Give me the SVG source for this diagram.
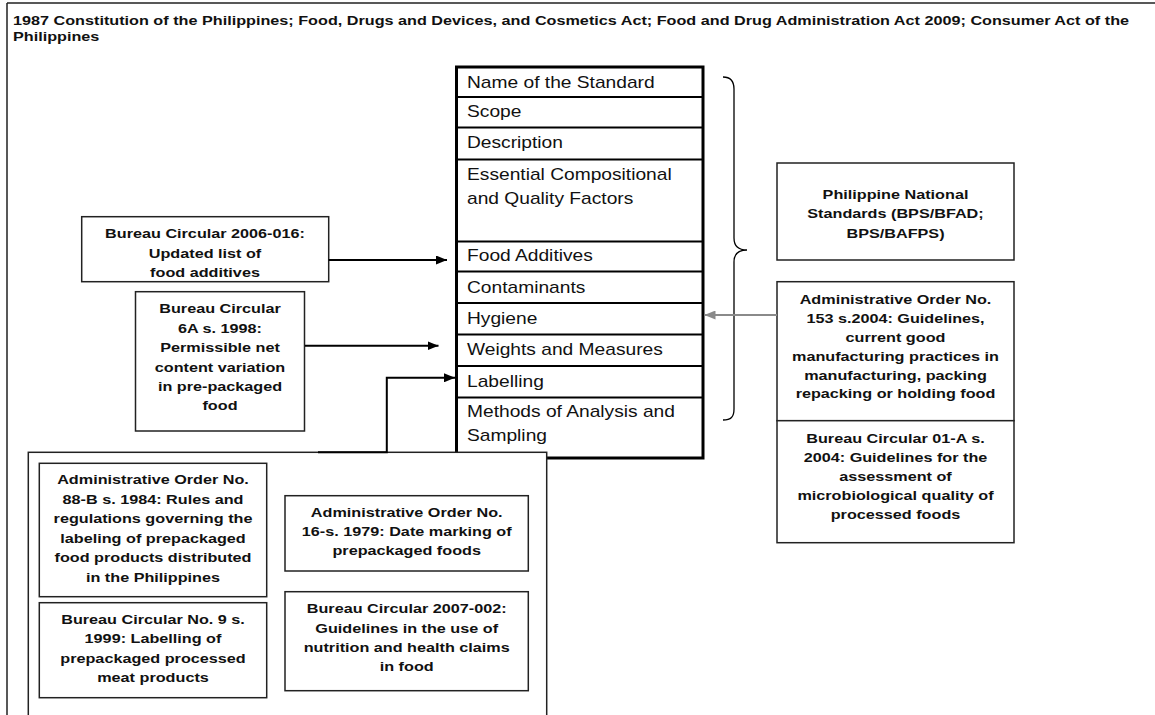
<svg xmlns="http://www.w3.org/2000/svg" width="1155" height="715" viewBox="0 0 1155 715">
  <defs>
    <marker id="ah" markerUnits="userSpaceOnUse" markerWidth="11" markerHeight="9" refX="11" refY="4.5" orient="auto">
      <path d="M0,0 L11,4.5 L0,9 Z" fill="#000"/>
    </marker>
    <marker id="ahg" markerUnits="userSpaceOnUse" markerWidth="11" markerHeight="9" refX="11" refY="4.5" orient="auto">
      <path d="M0,0 L11,4.5 L0,9 Z" fill="#8a8a8a"/>
    </marker>
    <style>
      text { font-family: "Liberation Sans", Arial, sans-serif; fill: #111; }
      .t { font-size: 13.5px; font-weight: bold; }
      .row { font-size: 16px; }
      .b { font-size: 13.5px; font-weight: bold; text-anchor: middle; }
      .box { fill: #fff; stroke: #222; stroke-width: 1.5; }
      .cell { fill: none; stroke: #000; stroke-width: 2; }
      .conn { fill: none; stroke: #000; stroke-width: 2; }
    </style>
  </defs>
  <rect width="1155" height="715" fill="#fff"/>

  <!-- outer frame (top and left edges) -->
  <g id="frame">
    <path d="M7,3 H1155 M7,3 V715" fill="none" stroke="#222" stroke-width="1.5"/>
    <text class="t" transform="translate(13 25) scale(1.2 1)">1987 Constitution of the Philippines; Food, Drugs and Devices, and Cosmetics Act; Food and Drug Administration Act 2009; Consumer Act of the</text>
    <text class="t" transform="translate(13 40.5) scale(1.2 1)">Philippines</text>
  </g>

  <!-- standard structure table -->
  <g id="standard">
    <rect x="456.5" y="67" width="246.5" height="391" fill="#fff" stroke="#000" stroke-width="3"/>
    <path class="cell" d="M456.5,97 H703 M456.5,127.5 H703 M456.5,159.5 H703 M456.5,241.5 H703 M456.5,271.5 H703 M456.5,303 H703 M456.5,334.5 H703 M456.5,366 H703 M456.5,397.5 H703"/>
    <text class="row" transform="translate(467 87.5) scale(1.2 1)">Name of the Standard</text>
    <text class="row" transform="translate(467 117) scale(1.2 1)">Scope</text>
    <text class="row" transform="translate(467 147.5) scale(1.2 1)">Description</text>
    <text class="row" transform="translate(467 180) scale(1.2 1)">Essential Compositional</text>
    <text class="row" transform="translate(467 204) scale(1.2 1)">and Quality Factors</text>
    <text class="row" transform="translate(467 261) scale(1.2 1)">Food Additives</text>
    <text class="row" transform="translate(467 292.5) scale(1.2 1)">Contaminants</text>
    <text class="row" transform="translate(467 323.5) scale(1.2 1)">Hygiene</text>
    <text class="row" transform="translate(467 354.5) scale(1.2 1)">Weights and Measures</text>
    <text class="row" transform="translate(467 386.5) scale(1.2 1)">Labelling</text>
    <text class="row" transform="translate(467 417) scale(1.2 1)">Methods of Analysis and</text>
    <text class="row" transform="translate(467 441) scale(1.2 1)">Sampling</text>
  </g>

  <!-- curly bracket grouping the table rows -->
  <g id="bracket">
    <path d="M723,77 C731,77 734,81 734,89 L734,238 C734,246 739,250 747,250 C739,250 734,254 734,262 L734,409 C734,417 731,420 723,420" fill="none" stroke="#000" stroke-width="1.3"/>
  </g>

  <g id="pns">
    <rect class="box" x="777" y="163" width="237" height="97"/>
    <text class="b" transform="translate(895.5 199) scale(1.2 1)">Philippine National</text>
    <text class="b" transform="translate(895.5 218.3) scale(1.2 1)">Standards (BPS/BFAD;</text>
    <text class="b" transform="translate(895.5 237.5) scale(1.2 1)">BPS/BAFPS)</text>
  </g>

  <g id="ao153">
    <rect class="box" x="777" y="281.7" width="237" height="139"/>
    <text class="b" transform="translate(895.5 304) scale(1.2 1)">Administrative Order No.</text>
    <text class="b" transform="translate(895.5 323) scale(1.2 1)">153 s.2004: Guidelines,</text>
    <text class="b" transform="translate(895.5 341.8) scale(1.2 1)">current good</text>
    <text class="b" transform="translate(895.5 360.7) scale(1.2 1)">manufacturing practices in</text>
    <text class="b" transform="translate(895.5 379.6) scale(1.2 1)">manufacturing, packing</text>
    <text class="b" transform="translate(895.5 398.4) scale(1.2 1)">repacking or holding food</text>
  </g>

  <g id="bc01a">
    <rect class="box" x="777" y="420.7" width="237" height="122"/>
    <text class="b" transform="translate(895.5 442.5) scale(1.2 1)">Bureau Circular 01-A s.</text>
    <text class="b" transform="translate(895.5 461.5) scale(1.2 1)">2004: Guidelines for the</text>
    <text class="b" transform="translate(895.5 480.5) scale(1.2 1)">assessment of</text>
    <text class="b" transform="translate(895.5 499.5) scale(1.2 1)">microbiological quality of</text>
    <text class="b" transform="translate(895.5 519) scale(1.2 1)">processed foods</text>
  </g>

  <g id="bc2006">
    <rect class="box" x="81.7" y="216.7" width="247" height="65"/>
    <text class="b" transform="translate(205 238.3) scale(1.2 1)">Bureau Circular 2006-016:</text>
    <text class="b" transform="translate(205 257.7) scale(1.2 1)">Updated list of</text>
    <text class="b" transform="translate(205 277) scale(1.2 1)">food additives</text>
  </g>

  <g id="bc6a">
    <rect class="box" x="135.5" y="291.7" width="169" height="139.3"/>
    <text class="b" transform="translate(220 313.3) scale(1.2 1)">Bureau Circular</text>
    <text class="b" transform="translate(220 332.7) scale(1.2 1)">6A s. 1998:</text>
    <text class="b" transform="translate(220 352.2) scale(1.2 1)">Permissible net</text>
    <text class="b" transform="translate(220 371.6) scale(1.2 1)">content variation</text>
    <text class="b" transform="translate(220 391) scale(1.2 1)">in pre-packaged</text>
    <text class="b" transform="translate(220 410.3) scale(1.2 1)">food</text>
  </g>

  <!-- labelling group container -->
  <g id="labelling-group">
    <rect class="box" x="28.3" y="452.3" width="518.4" height="280"/>
  </g>

  <g id="ao88b">
    <rect class="box" x="39.3" y="463.3" width="227.4" height="133.4"/>
    <text class="b" transform="translate(153 484.3) scale(1.2 1)">Administrative Order No.</text>
    <text class="b" transform="translate(153 503.8) scale(1.2 1)">88-B s. 1984: Rules and</text>
    <text class="b" transform="translate(153 523.2) scale(1.2 1)">regulations governing the</text>
    <text class="b" transform="translate(153 542.6) scale(1.2 1)">labeling of prepackaged</text>
    <text class="b" transform="translate(153 562.1) scale(1.2 1)">food products distributed</text>
    <text class="b" transform="translate(153 581.6) scale(1.2 1)">in the Philippines</text>
  </g>

  <g id="bc9">
    <rect class="box" x="39.3" y="602.7" width="227.4" height="95"/>
    <text class="b" transform="translate(153 624) scale(1.2 1)">Bureau Circular No. 9 s.</text>
    <text class="b" transform="translate(153 643.3) scale(1.2 1)">1999: Labelling of</text>
    <text class="b" transform="translate(153 662.6) scale(1.2 1)">prepackaged processed</text>
    <text class="b" transform="translate(153 681.8) scale(1.2 1)">meat products</text>
  </g>

  <g id="ao16">
    <rect class="box" x="285" y="495.7" width="243.3" height="75.3"/>
    <text class="b" transform="translate(406.7 516.7) scale(1.2 1)">Administrative Order No.</text>
    <text class="b" transform="translate(406.7 536) scale(1.2 1)">16-s. 1979: Date marking of</text>
    <text class="b" transform="translate(406.7 555.2) scale(1.2 1)">prepackaged foods</text>
  </g>

  <g id="bc2007">
    <rect class="box" x="285" y="591.7" width="243.3" height="99"/>
    <text class="b" transform="translate(406.7 613.3) scale(1.2 1)">Bureau Circular 2007-002:</text>
    <text class="b" transform="translate(406.7 632.6) scale(1.2 1)">Guidelines in the use of</text>
    <text class="b" transform="translate(406.7 651.8) scale(1.2 1)">nutrition and health claims</text>
    <text class="b" transform="translate(406.7 671) scale(1.2 1)">in food</text>
  </g>

  <!-- connectors -->
  <g id="connectors">
    <path class="conn" d="M328.7,260 H447" marker-end="url(#ah)"/>
    <path class="conn" d="M305,345.7 H438.5" marker-end="url(#ah)"/>
    <path class="conn" d="M318,452.3 H386.8 V377.8 H455" marker-end="url(#ah)"/>
    <path d="M777,315 H704.5" fill="none" stroke="#8a8a8a" stroke-width="2" marker-end="url(#ahg)"/>
  </g>
</svg>
